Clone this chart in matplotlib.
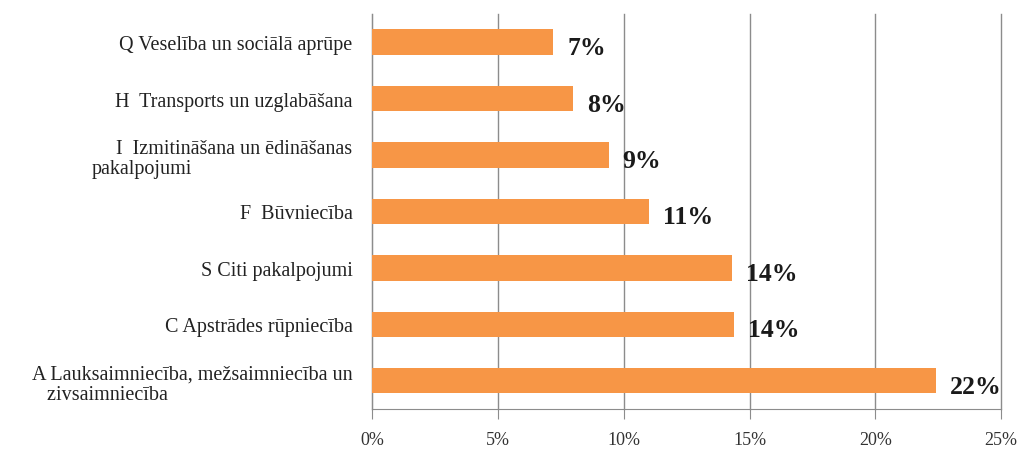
import numpy as np
import matplotlib.pyplot as plt

# categories from bottom to top, as drawn
categories = [
    'A Lauksaimniecība, mežsaimniecība un\n   zivsaimniecība',
    'C Apstrādes rūpniecība',
    'S Citi pakalpojumi',
    'F  Būvniecība',
    '     I  Izmitināšana un ēdināšanas\npakalpojumi',
    'H  Transports un uzglabāšana',
    'Q Veselība un sociālā aprūpe',
]
shares = [22.4, 14.4, 14.3, 11.0, 9.4, 8.0, 7.2]
value_labels = ['22%', '14%', '14%', '11%', '9%', '8%', '7%']
x_ticks = [0, 5, 10, 15, 20, 25]

plt.rcParams['font.family'] = ['Liberation Serif', 'DejaVu Serif']

fig = plt.figure(figsize=(10.29, 4.52), dpi=100)
ax = fig.add_axes([0.3615, 0.093, 0.6115, 0.874])

y_pos = np.arange(len(categories))
ax.barh(y_pos, shares, height=0.45, color='#F79646', zorder=3)

# value labels to the right of each bar
for y, v, lab in zip(y_pos, shares, value_labels):
    ax.annotate(lab, (v, y), xytext=(10, -4), textcoords='offset points',
                ha='left', va='center', fontsize=18.5, fontweight='bold',
                color='#1a1a1a', zorder=4)

ax.set_xlim(0, 25)
ax.set_ylim(-0.5, len(categories) - 0.5)
ax.set_xticks(x_ticks)
ax.set_xticklabels([str(t) + '%' for t in x_ticks], fontsize=13, color='#333333')
ax.set_yticks(y_pos)
ax.set_yticklabels(categories, fontsize=14.5, color='#222222',
                   multialignment='left', linespacing=1.1)

ax.grid(axis='x', color='#8c8c8c', linewidth=1, zorder=0)
for gl in ax.get_xgridlines():
    gl.set_clip_on(False)
for s in ['top', 'right']:
    ax.spines[s].set_visible(False)
ax.spines['left'].set_color('#8c8c8c')
ax.spines['bottom'].set_color('#8c8c8c')
ax.tick_params(axis='x', length=7, color='#8c8c8c', direction='out', pad=9)
ax.tick_params(axis='y', length=0, pad=14)

fig.savefig('out.png', dpi=100, facecolor='white')
